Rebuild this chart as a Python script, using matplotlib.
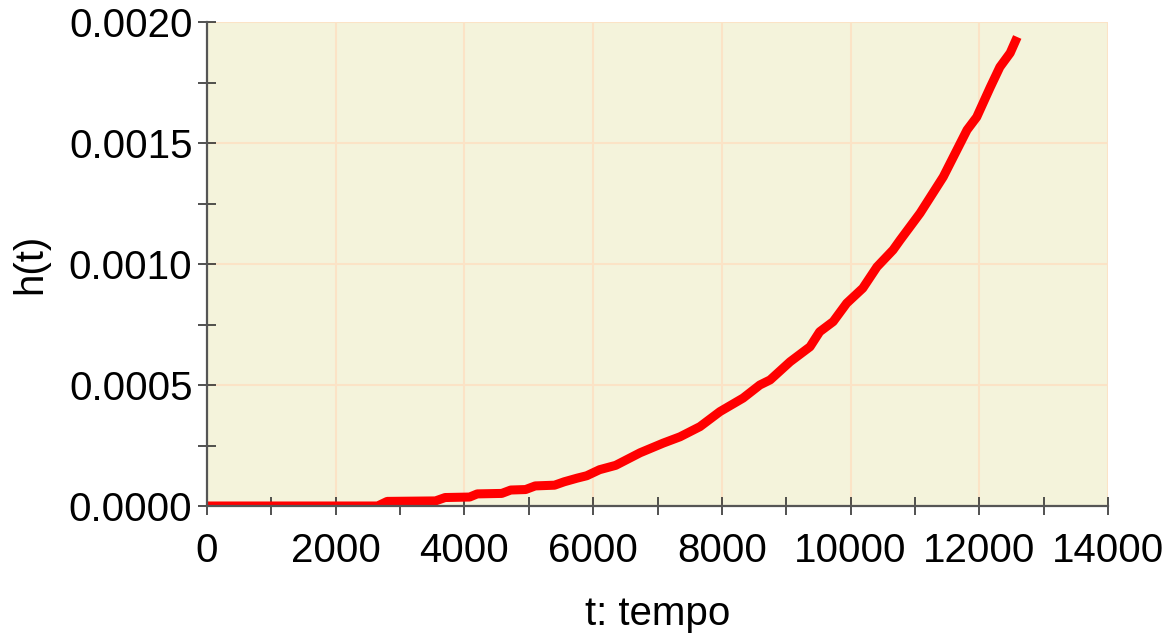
import matplotlib
matplotlib.use("Agg")
import matplotlib.pyplot as plt
from matplotlib.ticker import MultipleLocator, FormatStrFormatter

t_values = [0, 2650, 2800, 3550, 3700, 4080, 4200, 4580, 4720, 4950, 5100, 5400,
            5550, 5750, 5900, 6100, 6350, 6730, 7090, 7350, 7660, 7970, 8330, 8590,
            8750, 9060, 9370, 9520, 9730, 9940, 10190, 10410, 10660, 10770, 11080,
            11440, 11810, 11960, 12170, 12320, 12480, 12590]
h_values = [0, 0, 0.000019, 0.000021, 0.000035, 0.000037, 0.00005, 0.000052,
            0.000066, 0.000068, 0.000083, 0.000086, 0.0001, 0.000115, 0.000125,
            0.000150, 0.000168, 0.00022, 0.00026, 0.000286, 0.000328, 0.00039,
            0.000446, 0.0005, 0.000521, 0.000596, 0.000658, 0.00072, 0.000762,
            0.000838, 0.0009, 0.000988, 0.001058, 0.001099, 0.00121, 0.00136,
            0.001554, 0.001607, 0.00173, 0.001814, 0.001872, 0.001938]
x_label = "t: tempo"
y_label = "h(t)"

plt.rcParams['font.family'] = ['Liberation Sans', 'DejaVu Sans']

fig = plt.figure(figsize=(11.7, 6.37), dpi=100)
ax = fig.add_axes([207/1170, 1-506/637, (1108-207)/1170, (506-22)/637])
ax.set_facecolor('#f4f3db')

ax.plot(t_values, h_values, color='#ff0000', lw=6.5, solid_capstyle='butt',
        solid_joinstyle='round', zorder=3)

ax.set_xlim(0, 14000)
ax.set_ylim(0, 0.002)
ax.xaxis.set_major_locator(MultipleLocator(2000))
ax.xaxis.set_minor_locator(MultipleLocator(1000))
ax.yaxis.set_major_locator(MultipleLocator(0.0005))
ax.yaxis.set_minor_locator(MultipleLocator(0.00025))
ax.yaxis.set_major_formatter(FormatStrFormatter('%.4f'))

ax.grid(True, which='major', color='#fbe3c6', lw=1.5, zorder=0)
ax.set_axisbelow(True)

for s in ['top', 'right']:
    ax.spines[s].set_visible(False)
for s in ['left', 'bottom']:
    ax.spines[s].set_color('#555555')
    ax.spines[s].set_linewidth(1.6)
    ax.spines[s].set_zorder(4)

ax.tick_params(axis='both', which='both', direction='inout', length=13,
               width=1.2, color='#333333', labelsize=29, labelcolor='black')
ax.tick_params(axis='y', pad=4)
ax.tick_params(axis='x', pad=12)

ax.set_xlabel(x_label, fontsize=29, labelpad=18)
ax.set_ylabel(y_label, fontsize=29, labelpad=14)

fig.savefig('out.png', dpi=100, facecolor='white')
